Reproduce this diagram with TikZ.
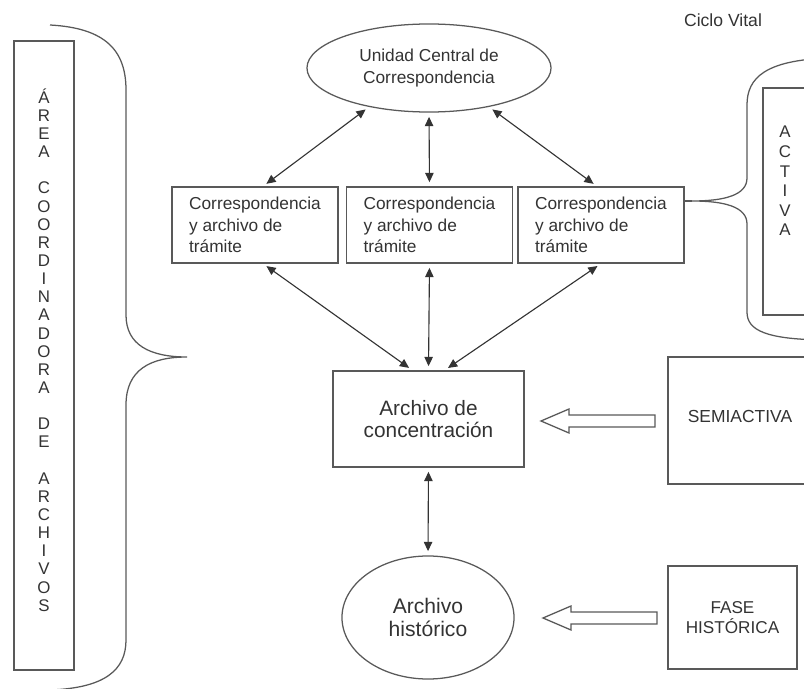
\documentclass[tikz,border=0pt]{standalone}
\usepackage{fontspec}
\setmainfont{Liberation Sans}
\usetikzlibrary{arrows.meta,shapes.geometric}

\tikzset{
  line/.style={draw=black!65, line width=0.9pt},
  box/.style={line, rectangle, inner sep=0pt, text=black!80},
  oval/.style={line, ellipse, inner sep=0pt, text=black!80, align=center},
  tramite/.style={box, minimum width=4.15cm, minimum height=1.9cm, align=left,
    font=\fontsize{12.3}{15.2}\selectfont},
  vletters/.style={text=black!80, align=center, inner sep=0pt},
  dbl/.style={draw=black!80, line width=0.8pt,
    {Triangle[length=2.3mm,width=2.1mm]}-{Triangle[length=2.3mm,width=2.1mm]},
    shorten <=3pt, shorten >=3pt},
  hollow/.style={line, fill=white, line join=miter}
}

\begin{document}
\begin{tikzpicture}[x=0.025cm, y=-0.025cm]
  \clip (0,0) rectangle (804,689);

  \node[text=black!80, font=\fontsize{12.5}{15}\selectfont] (ciclo) at (723,20) {Ciclo Vital};

  % unidad central y archivos de tramite
  \node[oval, minimum width=6.1cm, minimum height=2.2cm,
        font=\fontsize{12.3}{15}\selectfont] (ucc) at (429,68) {Unidad Central de\\Correspondencia};
  \node[tramite] (t1) at (255,225) {Correspondencia\\y archivo de\\trámite};
  \node[tramite] (t2) at (429.5,225) {Correspondencia\\y archivo de\\trámite};
  \node[tramite] (t3) at (601,225) {Correspondencia\\y archivo de\\trámite};

  \node[box, minimum width=4.775cm, minimum height=2.4cm, align=center,
        font=\fontsize{14.8}{15.8}\selectfont] (conc) at (428.5,419) {Archivo de\\concentración};
  \node[oval, minimum width=4.3cm, minimum height=3.075cm,
        font=\fontsize{15}{17}\selectfont] (hist) at (428,617.5) {Archivo\\histórico};

  \draw[dbl] (ucc.213) -- ([xshift=0.2cm]t1.north);
  \draw[dbl] (ucc.south) -- (t2.north);
  \draw[dbl] (ucc.327) -- ([xshift=-0.1cm]t3.north);
  \draw[dbl] ([xshift=0.2cm]t1.south) -- ([xshift=-0.4cm]conc.north);
  \draw[dbl] (t2.south) -- (conc.north);
  \draw[dbl] (t3.south) -- ([xshift=0.4cm]conc.north);
  \draw[dbl] (conc.south) -- (hist.north);

  % area coordinadora
  \node[box, minimum width=1.5cm, minimum height=15.725cm] (area) at (44,355.5) {};
  \node[vletters, font=\fontsize{12}{12.9}\selectfont] (areatxt) at (44,350)
    {Á\\R\\E\\A\\~\\C\\O\\O\\R\\D\\I\\N\\A\\D\\O\\R\\A\\~\\D\\E\\~\\A\\R\\C\\H\\I\\V\\O\\S};
  \coordinate (ltip) at (187,357);
  \draw[line] (50,25) .. controls (105,28) and (126,50) .. (126,90) -- (126,315)
    .. controls (126,345) and (150,357) .. (ltip)
    .. controls (150,357) and (126,370) .. (126,405) -- (126,640)
    .. controls (126,670) and (105,688) .. (50,690);

  % fase activa
  \node[box, minimum width=2.175cm, minimum height=5.675cm] (activa) at (806.5,201.5) {};
  \node[vletters, font=\fontsize{12}{13.9}\selectfont] (activatxt) at (785,181) {A\\C\\T\\I\\V\\A};
  \coordinate (rtip) at (692,201);
  \draw[line] (t3.east |- rtip) -- (rtip);
  \draw[line] (830,58) .. controls (765,60) and (747,78) .. (747,105) -- (747,178)
    .. controls (747,195) and (725,201) .. (rtip)
    .. controls (725,201) and (747,207) .. (747,224) -- (747,312)
    .. controls (747,330) and (765,340) .. (830,340);

  % fase semiactiva
  \node[box, minimum width=4.6cm, minimum height=3.175cm] (semi) at (760,420.5) {};
  \node[text=black!80, font=\fontsize{12.4}{15}\selectfont] (semitxt) at (740,416) {SEMIACTIVA};
  \draw[hollow] (541,421) -- (569,409) -- (569,415) -- (655,415) -- (655,427)
    -- (569,427) -- (569,433) -- cycle;

  % fase historica
  \node[box, minimum width=3.225cm, minimum height=2.575cm, align=center,
        font=\fontsize{12.2}{14.8}\selectfont] (fase) at (732.5,617.5) {FASE\\HISTÓRICA};
  \draw[hollow] (543,618) -- (571,606) -- (571,612) -- (657,612) -- (657,624)
    -- (571,624) -- (571,630) -- cycle;
\end{tikzpicture}
\end{document}
